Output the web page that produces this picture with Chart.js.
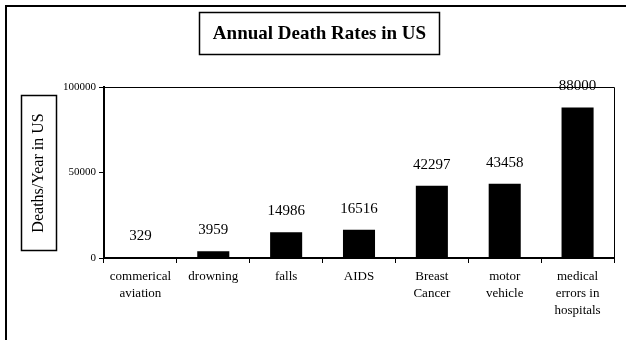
<!DOCTYPE html>
<html>
<head>
<meta charset="utf-8">
<script src="https://cdn.jsdelivr.net/npm/chart.js@4/dist/chart.umd.min.js"></script>
<style>
  html, body { margin: 0; padding: 0; background: #fff; }
  #wrap { width: 626px; height: 340px; }
</style>
</head>
<body>
<div id="wrap"><canvas id="chart" width="626" height="340"></canvas></div>
<script>
// Chart data
const categories = [
  ['commerical', 'aviation'],
  'drowning',
  'falls',
  'AIDS',
  ['Breast', 'Cancer'],
  ['motor', 'vehicle'],
  ['medical', 'errors in', 'hospitals']
];
const deaths = [329, 3959, 14986, 16516, 42297, 43458, 88000];
const yTicks = [0, 50000, 100000];

const chartTitle = 'Annual Death Rates in US';
const yTitle = 'Deaths/Year in US';
const serif = '"Liberation Serif", "Times New Roman", serif';

// Frame, title box, axis title box and value labels
const decorations = {
  id: 'decorations',
  afterDraw(chart) {
    const ctx = chart.ctx;
    const area = chart.chartArea;
    ctx.save();

    // outer frame (left + top only visible)
    ctx.strokeStyle = '#000';
    ctx.lineWidth = 2;
    ctx.beginPath();
    ctx.moveTo(6, 340);
    ctx.lineTo(6, 6);
    ctx.lineTo(626, 6);
    ctx.stroke();

    // plot box top and right
    ctx.lineWidth = 1;
    ctx.beginPath();
    ctx.moveTo(area.left, area.top + 0.5);
    ctx.lineTo(area.right + 0.5, area.top + 0.5);
    ctx.lineTo(area.right + 0.5, area.bottom);
    ctx.stroke();

    // title box
    ctx.lineWidth = 1.5;
    ctx.strokeRect(199.5, 12.5, 240, 42);
    ctx.fillStyle = '#000';
    ctx.font = 'bold 19px ' + serif;
    ctx.textAlign = 'center';
    ctx.textBaseline = 'middle';
    ctx.fillText(chartTitle, 319.5, 34);

    // y axis title box
    ctx.strokeRect(21.5, 95.5, 35, 155);
    ctx.save();
    ctx.translate(39, 173);
    ctx.rotate(-Math.PI / 2);
    ctx.font = '16px ' + serif;
    ctx.fillText(yTitle, 0, 0);
    ctx.restore();

    // value labels above bars
    ctx.font = '15px ' + serif;
    const meta = chart.getDatasetMeta(0);
    meta.data.forEach((bar, i) => {
      ctx.fillText(String(deaths[i]), bar.x, bar.y - 21);
    });

    ctx.restore();
  }
};

new Chart(document.getElementById('chart'), {
  type: 'bar',
  data: {
    labels: categories,
    datasets: [{
      data: deaths,
      backgroundColor: '#000',
      borderWidth: 0,
      barPercentage: 0.44,
      categoryPercentage: 1
    }]
  },
  options: {
    responsive: false,
    animation: false,
    layout: { padding: { top: 87, right: 12, left: 0, bottom: 0 } },
    plugins: {
      legend: { display: false },
      title: { display: false },
      tooltip: { enabled: false }
    },
    scales: {
      x: {
        afterFit(scale) { scale.height = 82; },
        border: { display: true, color: '#000', width: 2 },
        grid: {
          display: true,
          drawOnChartArea: false,
          drawTicks: true,
          tickLength: 5,
          color: '#000',
          lineWidth: 1
        },
        ticks: {
          color: '#000',
          font: { family: serif, size: 13, lineHeight: 1.3 },
          padding: 5,
          maxRotation: 0,
          autoSkip: false
        }
      },
      y: {
        min: 0,
        max: 100000,
        afterFit(scale) { scale.width = 104; },
        afterBuildTicks(scale) { scale.ticks = yTicks.map(v => ({ value: v })); },
        border: { display: true, color: '#000', width: 2 },
        grid: {
          display: true,
          drawOnChartArea: false,
          drawTicks: true,
          tickLength: 5,
          color: '#000',
          lineWidth: 1
        },
        ticks: {
          color: '#000',
          font: { family: serif, size: 11 },
          padding: 3,
          callback: (value) => String(value)
        }
      }
    }
  },
  plugins: [decorations]
});
</script>
</body>
</html>
